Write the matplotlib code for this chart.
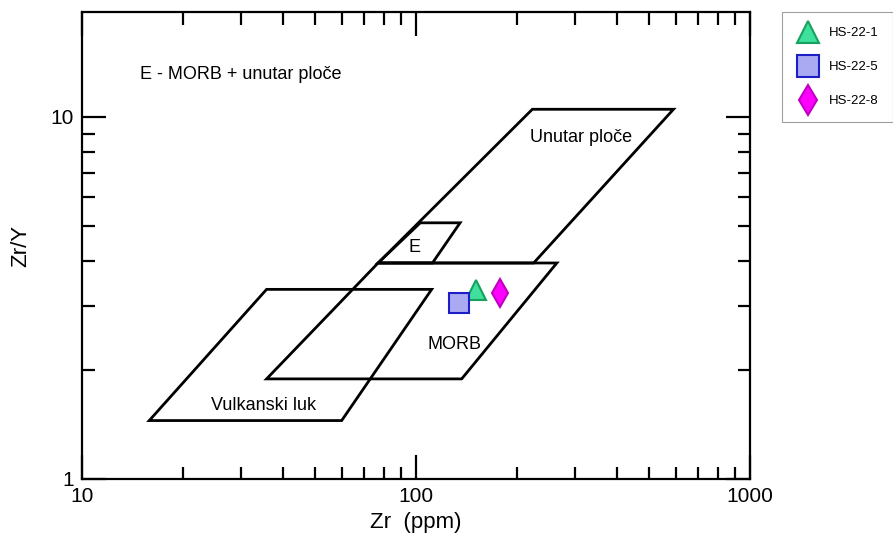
import matplotlib
matplotlib.use("Agg")
import matplotlib.pyplot as plt
from matplotlib.ticker import FixedLocator, NullFormatter, FixedFormatter

plt.rcParams['font.family'] = ['Liberation Sans', 'DejaVu Sans']

# polja dijagrama (Zr, Zr/Y)
unutar_zr = [223, 590, 225, 77]
unutar_zry = [10.5, 10.5, 3.95, 3.95]
e_zr = [103, 135.5, 112, 77]
e_zry = [5.1, 5.1, 3.95, 3.95]
morb_zr = [77, 264, 137, 35.7]
morb_zry = [3.95, 3.95, 1.89, 1.89]
vulk_zr = [35.7, 111.4, 59.9, 15.9]
vulk_zry = [3.34, 3.34, 1.45, 1.45]

# uzorci
samples = ['HS-22-1', 'HS-22-5', 'HS-22-8']
zr = [151, 134.5, 178.5]
zr_y = [3.33, 3.06, 3.26]

fig = plt.figure(figsize=(8.93, 5.43), dpi=100)
ax = fig.add_axes([0.0918, 0.1179, 0.7481, 0.8601])
ax.set_xscale('log')
ax.set_yscale('log')

for xs, ys in [(unutar_zr, unutar_zry), (e_zr, e_zry), (morb_zr, morb_zry), (vulk_zr, vulk_zry)]:
    ax.fill(xs, ys, facecolor='none', edgecolor='black', lw=2.0, joinstyle='miter', zorder=2)

styles = [
    dict(marker='^', ms=14.5, mfc='#3ee09c', mec='#17a05e'),
    dict(marker='s', ms=14.5, mfc='#a9aaf2', mec='#1e1ec8'),
    dict(marker='d', ms=14.3, mfc='#ff00ff', mec='#c000c0'),
]
for name, x, y, st in zip(samples, zr, zr_y, styles):
    ax.plot([x], [y], ls='none', mew=1.5, label=name, zorder=3, **st)

ax.text(14.9, 13.1, 'E - MORB + unutar ploče', fontsize=13, va='center', ha='left')
ax.text(312, 8.75, 'Unutar ploče', fontsize=13, va='center', ha='center')
ax.text(99, 4.35, 'E', fontsize=13, va='center', ha='center')
ax.text(130, 2.35, 'MORB', fontsize=13, va='center', ha='center')
ax.text(35, 1.6, 'Vulkanski luk', fontsize=13, va='center', ha='center')

ax.set_xlim(10, 1000)
ax.set_ylim(1, 19.5)

ax.xaxis.set_major_locator(FixedLocator([10, 100, 1000]))
ax.xaxis.set_major_formatter(FixedFormatter(['10', '100', '1000']))
ax.xaxis.set_minor_locator(FixedLocator([k * 10 for k in range(2, 10)] + [k * 100 for k in range(2, 10)]))
ax.xaxis.set_minor_formatter(NullFormatter())
ax.yaxis.set_major_locator(FixedLocator([1, 10]))
ax.yaxis.set_major_formatter(FixedFormatter(['1', '10']))
ax.yaxis.set_minor_locator(FixedLocator(list(range(2, 10))))
ax.yaxis.set_minor_formatter(NullFormatter())

ax.tick_params(which='both', direction='in', top=True, right=True, width=1.6, labelsize=15)
ax.tick_params(which='major', length=17, pad=6)
ax.tick_params(which='minor', length=9)
for s in ax.spines.values():
    s.set_linewidth(1.6)

ax.set_xlabel('Zr  (ppm)', fontsize=16, labelpad=4)
ax.set_ylabel('Zr/Y', fontsize=16, labelpad=14)

leg = fig.legend(loc='upper left', bbox_to_anchor=(0.876, 0.977), fontsize=9.5,
                 frameon=True, fancybox=False, edgecolor='#888888', borderpad=1.1,
                 labelspacing=1.65, handletextpad=0.7, handlelength=1.7, borderaxespad=0,
                 markerscale=1.1)
leg.get_frame().set_linewidth(0.8)

fig.savefig('out.png', dpi=100)
